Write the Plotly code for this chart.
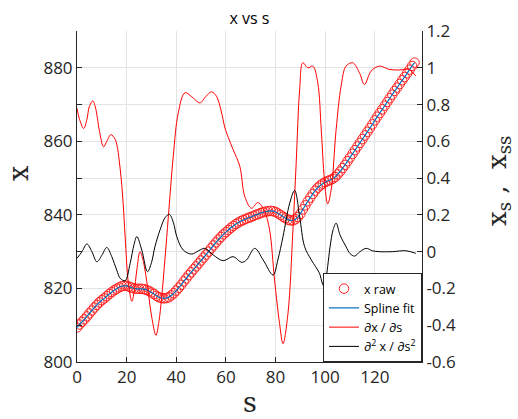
import plotly.graph_objects as go

# ---- data ----
x_raw = [
    809.4, 810.2, 810.9, 811.6, 812.4, 813.2, 814.0, 814.8, 815.5, 816.2,
    816.8, 817.3, 817.9, 818.5, 819.0, 819.5, 819.9, 820.3, 820.6, 820.7,
    820.7, 820.5, 820.2, 820.0, 819.9, 819.9, 819.9, 819.8, 819.6, 819.3,
    818.9, 818.5, 818.0, 817.6, 817.4, 817.3, 817.4, 817.6, 818.1, 818.7,
    819.4, 820.2, 821.0, 821.9, 822.7, 823.6, 824.4, 825.2, 826.0, 826.8,
    827.6, 828.4, 829.2, 830.0, 830.9, 831.7, 832.5, 833.3, 834.0, 834.7,
    835.3, 835.9, 836.5, 837.0, 837.5, 837.9, 838.3, 838.6, 838.9, 839.2,
    839.4, 839.7, 840.0, 840.2, 840.5, 840.7, 840.9, 841.0, 841.1, 841.0,
    840.8, 840.4, 840.0, 839.5, 839.1, 838.7, 838.5, 838.5, 838.8, 839.4,
    840.3, 841.5, 842.6, 843.7, 844.7, 845.7, 846.6, 847.4, 848.0, 848.5,
    848.9, 849.2, 849.5, 849.8, 850.3, 851.0, 851.8, 852.7, 853.6, 854.6,
    855.6, 856.6, 857.6, 858.6, 859.6, 860.6, 861.6, 862.6, 863.6, 864.6,
    865.7, 866.7, 867.7, 868.7, 869.7, 870.7, 871.7, 872.7, 873.7, 874.6,
    875.6, 876.6, 877.5, 878.5, 879.5, 880.5, 881.4,
]
s_raw = list(range(len(x_raw)))

ds_s = [0, 1, 2.7, 4, 5, 6.4, 7.5, 9, 10.7, 12, 13.6, 15.4, 17.4, 18.5, 19.4,
        20.7, 22.1, 23, 24.1, 25.4, 26.5, 27.4, 28.8, 30.1, 31.8, 33, 34.1,
        35.5, 36.8, 38.8, 40.8, 43.5, 46.8, 49.5, 52, 54.2, 56.2, 58, 59.6,
        61, 62.9, 65.6, 67.6, 70.3, 72.9, 75.6, 77.6, 79.6, 81.6, 83, 85, 87,
        88.3, 89.7, 91, 93, 95, 97, 98.4, 99.7, 101, 102.4, 104.4, 106.4,
        108.4, 111.1, 113.8, 115.8, 118.5, 121.8, 125.8, 129.8, 133.8, 136.5]
dx_vals = [0.78, 0.72, 0.67, 0.72, 0.79, 0.82, 0.78, 0.66, 0.57, 0.60, 0.636,
           0.61, 0.45, 0.28, 0.08, -0.17, -0.27, -0.22, -0.10, 0.0, -0.04,
           -0.10, -0.23, -0.355, -0.455, -0.38, -0.25, -0.03, 0.19, 0.52,
           0.755, 0.864, 0.836, 0.809, 0.845, 0.869, 0.845, 0.77, 0.673,
           0.62, 0.555, 0.464, 0.30, 0.236, 0.267, 0.218, 0.118, -0.155,
           -0.39, -0.50, -0.336, 0.118, 0.48, 0.88, 1.027, 1.0, 1.009, 0.918,
           0.664, 0.39, 0.26, 0.336, 0.664, 0.90, 1.009, 1.027, 0.973, 0.909,
           0.982, 1.009, 0.991, 0.988, 0.991, 0.955]

dds_s = [0, 2, 4, 6, 8, 10, 12, 14, 16, 17.4, 19.4, 21.4, 23, 24.1, 26.1,
         28.4, 30, 31.4, 33.5, 35.5, 37.2, 38.8, 40.2, 42.8, 46.2, 49, 51.5,
         54.9, 58.9, 62.9, 66.3, 68.3, 71.6, 75, 79, 81, 83, 85.7, 87.7, 89.7,
         91.7, 94.4, 97.7, 98.8, 99.6, 100.3, 101, 102, 103.2, 104.4, 106,
         108.4, 110, 111.8, 114, 116.5, 119, 121.8, 127, 132.5, 136.5]
ddx_vals = [-0.036, 0.0, 0.042, 0.0, -0.055, -0.02, 0.023, -0.027, -0.10,
            -0.145, -0.158, -0.064, 0.04, 0.082, 0.009, -0.109, -0.06, 0.027,
            0.12, 0.185, 0.203, 0.16, 0.082, 0.009, -0.013, 0.005, 0.018,
            -0.018, -0.049, -0.027, -0.058, -0.045, 0.018, -0.045, -0.127,
            -0.04, 0.082, 0.264, 0.333, 0.191, 0.027, -0.045, -0.118, -0.17,
            -0.19, -0.15, -0.08, 0.03, 0.12, 0.155, 0.09, 0.027, -0.01,
            -0.024, 0.0, 0.018, 0.005, 0.0, 0.0, 0.005, -0.009]

x_ticks = [0, 20, 40, 60, 80, 100, 120]
y_left_ticks = [800, 820, 840, 860, 880]
y_right_ticks = [1.2, 1.0, 0.8, 0.6, 0.4, 0.2, 0.0, -0.2, -0.4, -0.6]
y_right_labels = ["1.2", "1", "0.8", "0.6", "0.4", "0.2", "0", "-0.2", "-0.4", "-0.6"]

# ---- figure ----
TICK_FONT = dict(family="Open Sans", size=17, color="#262626")
GRID = "#e3e3e3"
LABEL_FONT = "DejaVu Serif"

fig = go.Figure()
fig.add_trace(go.Scatter(
    x=s_raw, y=x_raw, mode="markers", name="x raw",
    marker=dict(symbol="circle-open", size=9.5, color="#ff2020", line=dict(width=1)),
))
fig.add_trace(go.Scatter(
    x=s_raw, y=x_raw, mode="lines", name="Spline fit",
    line=dict(color="#0072BD", width=1.2, shape="spline"),
))
fig.add_trace(go.Scatter(
    x=ds_s, y=dx_vals, mode="lines", name="<i>∂</i>x / <i>∂</i>s", yaxis="y2",
    line=dict(color="#ff0000", width=1, shape="spline", smoothing=1.0),
))
fig.add_trace(go.Scatter(
    x=dds_s, y=ddx_vals, mode="lines",
    name="<i>∂</i><sup>2</sup> x / <i>∂</i>s<sup>2</sup>", yaxis="y2",
    line=dict(color="#000000", width=1, shape="spline", smoothing=1.0),
))

PW, PH = 345, 331  # plot area size in px

fig.update_layout(
    width=518, height=419,
    margin=dict(l=77, r=96, t=31, b=57),
    paper_bgcolor="white", plot_bgcolor="white",
    showlegend=True,
    title=dict(text="x vs s", x=0.5, xref="paper", y=1 - 18 / 419, yanchor="middle",
               xanchor="center", font=dict(family="Open Sans", size=16, color="#000000")),
    xaxis=dict(
        range=[0, 139], tickvals=x_ticks, ticks="inside", ticklen=5,
        tickcolor="#262626", showline=True, linecolor="#262626", linewidth=1,
        showgrid=True, gridcolor=GRID, zeroline=False, tickfont=TICK_FONT,
    ),
    yaxis=dict(
        range=[800, 890], tickvals=y_left_ticks, ticks="inside", ticklen=5,
        tickcolor="#262626", showline=True, linecolor="#262626", linewidth=1,
        showgrid=False, zeroline=False, tickfont=TICK_FONT,
        minor=dict(dtick=10, tick0=800, ticks="inside", ticklen=5, tickcolor="#262626"),
    ),
    yaxis2=dict(
        range=[-0.6, 1.2], overlaying="y", side="right", tickvals=y_right_ticks,
        ticktext=y_right_labels, ticks="inside", ticklen=5, tickcolor="#262626",
        showline=True, linecolor="#262626", linewidth=1, showgrid=True,
        gridcolor=GRID, zeroline=False, tickfont=TICK_FONT,
    ),
    legend=dict(
        x=1, y=0, xanchor="right", yanchor="bottom", bgcolor="white",
        bordercolor="#262626", borderwidth=1,
        font=dict(family="Open Sans", size=12.5, color="#000000"),
        tracegroupgap=0,
    ),
    annotations=[
        dict(text="x", xref="paper", yref="paper", x=(19 - 77) / PW, y=(362 - 174) / PH,
             textangle=-90, showarrow=False, xanchor="center", yanchor="middle",
             font=dict(family=LABEL_FONT, size=27, color="#262626")),
        dict(text="x<sub>s</sub> ,  x<sub>ss</sub>", xref="paper", yref="paper",
             x=(498 - 77) / PW, y=(362 - 181) / PH, textangle=-90, showarrow=False,
             xanchor="center", yanchor="middle",
             font=dict(family=LABEL_FONT, size=26, color="#262626")),
        dict(text="s", xref="paper", yref="paper", x=0.5, y=(362 - 402) / PH,
             showarrow=False, xanchor="center", yanchor="middle",
             font=dict(family=LABEL_FONT, size=27, color="#262626")),
    ],
)

fig.write_html("out.html")
